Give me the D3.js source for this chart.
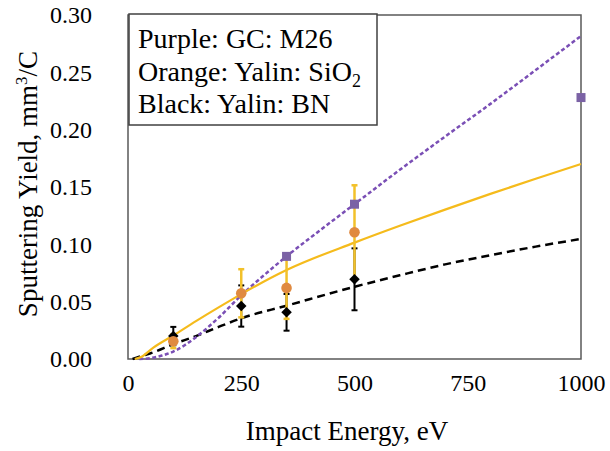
<!DOCTYPE html>
<html><head><meta charset="utf-8">
<script src="https://cdn.jsdelivr.net/npm/d3@7"></script>
<style>body{margin:0;background:#fff}svg{display:block}</style>
</head><body><svg id="c" width="610" height="451"></svg>
<script>
// Tick labels
const xTicks = [0, 250, 500, 750, 1000];
const yTicks = [0, 0.05, 0.10, 0.15, 0.20, 0.25, 0.30];
// Measured points
const gcE = [350, 500, 1000];
const gcY = [0.0895, 0.135, 0.228];
const sioE = [100, 250, 350, 500];
const sioY = [0.0155, 0.0573, 0.062, 0.1105];
const sioErr = [0.006, 0.021, 0.027, 0.041];
const bnE = [100, 250, 350, 500];
const bnY = [0.020, 0.0462, 0.0407, 0.0695];
const bnErr = [0.008, 0.018, 0.016, 0.027];
// Fit curves
const gcFitE = [25, 50, 75, 100, 125, 150, 200, 250, 300, 350, 400, 500, 600, 700, 800, 900, 1000];
const gcFitY = [0, 0.0008, 0.003, 0.0065, 0.012, 0.019, 0.036, 0.0555, 0.073, 0.0895, 0.105, 0.135, 0.165, 0.194, 0.2225, 0.252, 0.2817];
const sioFitE = [15, 30, 56, 100, 150, 200, 250, 350, 500, 600, 700, 800, 900, 1000];
const sioFitY = [0, 0.002, 0.0099, 0.0205, 0.033, 0.045, 0.0566, 0.0776, 0.1015, 0.1162, 0.1303, 0.144, 0.1572, 0.170];
const bnFitE = [10, 25, 50, 100, 150, 200, 250, 350, 500, 600, 700, 800, 900, 1000];
const bnFitY = [0, 0.002, 0.005, 0.013, 0.020, 0.028, 0.0355, 0.0465, 0.063, 0.073, 0.0825, 0.0905, 0.098, 0.1047];
const legendLines = ["Purple: GC: M26", "Orange: Yalin: SiO", "Black: Yalin: BN"];

const FONT = '"Liberation Serif"';
const svg = d3.select("#c");
const L = 128, R = 581, T = 15, B = 359;
const x = d3.scaleLinear().domain([0, 1000]).range([L, R]);
const y = d3.scaleLinear().domain([0, 0.30]).range([B, T]);

// axes labels
const xa = svg.append("g").attr("transform", `translate(0,${B})`)
  .call(d3.axisBottom(x).tickValues(xTicks).tickSize(0).tickPadding(15).tickFormat(d3.format("d")));
xa.attr("font-family", null).style("font-family", FONT);
xa.select(".domain").remove();
xa.selectAll("text").attr("font-size", 24).style("font-family", FONT).attr("fill", "#000");
const ya = svg.append("g").attr("transform", `translate(${L},0)`)
  .call(d3.axisLeft(y).tickValues(yTicks).tickSize(0).tickPadding(36).tickFormat(d3.format(".2f")));
ya.attr("font-family", null).style("font-family", FONT);
ya.select(".domain").remove();
ya.selectAll("text").attr("font-size", 24).style("font-family", FONT).attr("fill", "#000");

// frame
svg.append("rect").attr("x", L).attr("y", T).attr("width", R - L).attr("height", B - T)
  .attr("fill", "none").attr("stroke", "#595959").attr("stroke-width", 1.5);

const line = d3.line().x(d => x(d[0])).y(d => y(d[1])).curve(d3.curveMonotoneX);
const zip = (a, b) => a.map((v, i) => [v, b[i]]);

svg.append("path").datum(zip(bnFitE, bnFitY)).attr("d", line).attr("fill", "none")
  .attr("stroke", "#000").attr("stroke-width", 2.5).attr("stroke-dasharray", "8,5");
svg.append("path").datum(zip(gcFitE, gcFitY)).attr("d", line).attr("fill", "none")
  .attr("stroke", "#7a4fb5").attr("stroke-width", 2.5).attr("stroke-dasharray", "4,2.5");
svg.append("path").datum(zip(sioFitE, sioFitY)).attr("d", line).attr("fill", "none")
  .attr("stroke", "#f5bb1c").attr("stroke-width", 2.2);

function errBars(E, Y, Err, color, w) {
  const g = svg.append("g").attr("stroke", color).attr("stroke-width", w);
  E.forEach((e, i) => {
    const cx = x(e), y1 = y(Y[i] + Err[i]), y2 = y(Y[i] - Err[i]);
    g.append("line").attr("x1", cx).attr("x2", cx).attr("y1", y1).attr("y2", y2);
    g.append("line").attr("x1", cx - 3).attr("x2", cx + 3).attr("y1", y1).attr("y2", y1);
    g.append("line").attr("x1", cx - 3).attr("x2", cx + 3).attr("y1", y2).attr("y2", y2);
  });
}
errBars(bnE, bnY, bnErr, "#000", 2);
errBars(sioE, sioY, sioErr, "#f2c12a", 2.5);

svg.append("g").selectAll("path").data(zip(bnE, bnY)).join("path")
  .attr("d", d3.symbol(d3.symbolDiamond2, 70)).attr("fill", "#000")
  .attr("transform", d => `translate(${x(d[0])},${y(d[1])})`);
svg.append("g").selectAll("circle").data(zip(sioE, sioY)).join("circle")
  .attr("cx", d => x(d[0])).attr("cy", d => y(d[1])).attr("r", 5.3).attr("fill", "#e08a40");
svg.append("g").selectAll("rect").data(zip(gcE, gcY)).join("rect")
  .attr("x", d => x(d[0]) - 4.5).attr("y", d => y(d[1]) - 4.5).attr("width", 9).attr("height", 9)
  .attr("fill", "#7b62a5");

// axis titles
svg.append("text").attr("x", 347).attr("y", 440).attr("text-anchor", "middle")
  .attr("font-size", 27).style("font-family", FONT).text("Impact Energy, eV");
const yt = svg.append("text").attr("transform", "translate(37,184) rotate(-90)")
  .attr("text-anchor", "middle").attr("font-size", 27).style("font-family", FONT);
yt.append("tspan").text("Sputtering Yield, mm");
yt.append("tspan").attr("font-size", 17).attr("dy", -10).text("3");
yt.append("tspan").attr("dy", 10).text("/C");

// legend
svg.append("rect").attr("x", 129).attr("y", 14).attr("width", 248).attr("height", 111)
  .attr("fill", "#fff").attr("stroke", "#404040").attr("stroke-width", 1.5);
const lg = svg.append("g");
legendLines.forEach((t, i) => {
  const tx = lg.append("text").attr("x", 138).attr("y", 48 + i * 32.5).attr("font-size", 28)
    .style("font-family", FONT);
  tx.append("tspan").text(t);
  if (i === 1) tx.append("tspan").attr("font-size", 18).attr("dy", 6).text("2");
});
</script></body></html>
